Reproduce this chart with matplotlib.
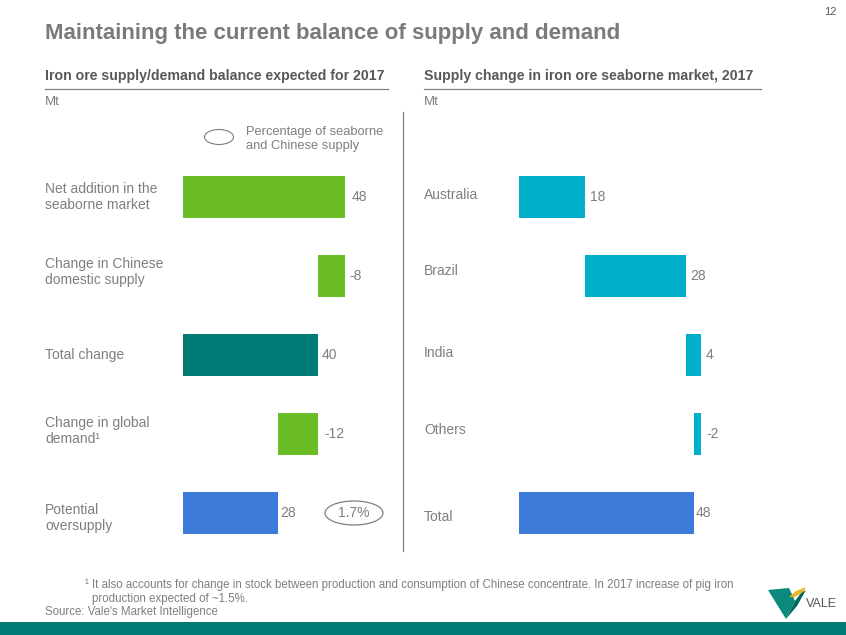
import matplotlib
matplotlib.use("Agg")
import matplotlib.pyplot as plt
from matplotlib.patches import Ellipse, Polygon, Rectangle
import numpy as np

plt.rcParams['font.family'] = ['Liberation Sans', 'DejaVu Sans']

# ---- data ----
left_categories = ["Net addition in the\nseaborne market", "Change in Chinese\ndomestic supply",
                   "Total change", "Change in global\ndemand\u00b9", "Potential\noversupply"]
left_values = [48, -8, 40, -12, 28]
left_is_total = [False, False, True, False, True]

right_categories = ["Australia", "Brazil", "India", "Others", "Total"]
right_values = [18, 28, 4, -2, 48]
right_is_total = [False, False, False, False, True]

oversupply_pct = "1.7%"

# ---- styles ----
GREEN = "#6BBD28"
TEAL = "#007B76"
BLUE = "#3C7CD8"
CYAN = "#00B0CA"
GRAY = "#7F7F7F"
DARK = "#595959"
left_colors = [GREEN, GREEN, TEAL, GREEN, BLUE]
right_colors = [CYAN, CYAN, CYAN, CYAN, BLUE]
left_label_dy = [0, -4, 0, -3, 5]      # pixel nudges of category labels
right_label_dy = [-2, -5, -2, -4, 4]
left_value_dx = [7, 4, 4, 6, 3]
right_value_dx = [5, 4, 5, 5, 2]

W, H = 846, 635
fig = plt.figure(figsize=(W / 100, H / 100), dpi=100)


def fx(x):
    return x / W


def fy(y):
    return 1 - y / H


def waterfall(values, is_total):
    starts, ends = [], []
    run = 0
    for v, t in zip(values, is_total):
        if t:
            s, e = 0, v
            run = v
        else:
            s, e = run, run + v
            run = e
        starts.append(s)
        ends.append(e)
    return np.array(starts), np.array(ends)


def draw_panel(ax_left_px, px_per_unit, categories, values, is_total, colors, label_x_px,
               label_dy, value_dx):
    top, bottom = 157.5, 552.5
    xmax = 60
    ax = fig.add_axes([fx(ax_left_px), fy(bottom), xmax * px_per_unit / W, (bottom - top) / H])
    starts, ends = waterfall(values, is_total)
    y = np.arange(len(values))
    lefts = np.minimum(starts, ends)
    widths = np.abs(ends - starts)
    ax.barh(y, widths, left=lefts, height=0.52, color=colors, edgecolor='none')
    for i, v in enumerate(values):
        ax.annotate(f"{v}", (max(starts[i], ends[i]), i), xytext=(value_dx[i], 0),
                    textcoords='offset pixels', va='center', ha='left',
                    fontsize=10, color=GRAY)
        ax.annotate(categories[i], (0, i), xycoords=('figure fraction', 'data'),
                    xytext=(label_x_px, -label_dy[i]), textcoords='offset pixels',
                    va='center', ha='left', fontsize=10, color=GRAY, linespacing=1.2)
    ax.set_xlim(0, xmax)
    ax.set_ylim(len(values) - 0.5, -0.5)
    ax.axis('off')
    return ax


axL = draw_panel(183, 3.375, left_categories, left_values, left_is_total, left_colors, 45,
                 left_label_dy, left_value_dx)
axR = draw_panel(519, 3.64, right_categories, right_values, right_is_total, right_colors, 424,
                 right_label_dy, right_value_dx)

# ---- oversupply percentage ellipse ----
fig.patches.append(Ellipse((fx(354), fy(513)), 58 / W, 24 / H, transform=fig.transFigure,
                           fill=False, edgecolor=GRAY, lw=0.9))
fig.text(fx(354), fy(513), oversupply_pct, ha='center', va='center', fontsize=10, color=GRAY)

# legend ellipse
fig.patches.append(Ellipse((fx(219), fy(137)), 29 / W, 15 / H, transform=fig.transFigure,
                           fill=False, edgecolor=GRAY, lw=0.8))
fig.text(fx(246), fy(139), "Percentage of seaborne\nand Chinese supply", ha='left', va='center',
         fontsize=9.3, color=GRAY, linespacing=1.3)

# ---- titles ----
fig.text(fx(45), fy(34), "Maintaining the current balance of supply and demand", ha='left',
         va='center', fontsize=16, fontweight='bold', color="#7A7A7A")
fig.text(fx(830), fy(12), "12", ha='center', va='center', fontsize=8, color=DARK)

fig.text(fx(45), fy(76), "Iron ore supply/demand balance expected for 2017", ha='left', va='center',
         fontsize=10.2, fontweight='bold', color=DARK)
fig.text(fx(424), fy(76), "Supply change in iron ore seaborne market, 2017", ha='left', va='center',
         fontsize=10.2, fontweight='bold', color=DARK)
fig.lines.append(plt.Line2D([fx(45), fx(388)], [fy(89), fy(89)], transform=fig.transFigure,
                            color=GRAY, lw=0.9))
fig.lines.append(plt.Line2D([fx(424), fx(761)], [fy(89), fy(89)], transform=fig.transFigure,
                            color=GRAY, lw=0.9))
fig.text(fx(45), fy(102), "Mt", ha='left', va='center', fontsize=9.5, color=GRAY)
fig.text(fx(424), fy(102), "Mt", ha='left', va='center', fontsize=9.5, color=GRAY)

# divider
fig.lines.append(plt.Line2D([fx(403), fx(403)], [fy(112), fy(551)], transform=fig.transFigure,
                            color=GRAY, lw=0.9))

# ---- footnotes ----
fig.text(fx(85), fy(585), "\u00b9 It also accounts for change in stock between production and consumption of "
         "Chinese concentrate. In 2017 increase of pig iron", ha='left', va='center', fontsize=8.3, color=GRAY)
fig.text(fx(92), fy(599), "production expected of ~1.5%.", ha='left', va='center', fontsize=8.3, color=GRAY)
fig.text(fx(45), fy(612), "Source: Vale's Market Intelligence", ha='left', va='center', fontsize=8.3, color=GRAY)

# footer bar
fig.patches.append(Rectangle((0, 0), 1, 13 / H, transform=fig.transFigure, color=TEAL, lw=0))

# ---- logo ----
def P(pts):
    return [(fx(x), fy(y)) for x, y in pts]

fig.patches.append(Polygon(P([(768, 590), (789, 588), (795, 601), (786, 619)]), closed=True,
                           transform=fig.transFigure, color="#0A8A7A", lw=0))
fig.patches.append(Polygon(P([(786, 619), (795, 601), (801, 593), (806, 590), (797, 606)]), closed=True,
                           transform=fig.transFigure, color="#00675E", lw=0))
fig.patches.append(Polygon(P([(789, 597), (796, 591), (806, 587), (803, 592), (795, 597)]), closed=True,
                           transform=fig.transFigure, color="#E9B824", lw=0))
fig.text(fx(806), fy(604), "VALE", ha='left', va='center', fontsize=9, color="#555555")

fig.savefig("out.png", dpi=100)
